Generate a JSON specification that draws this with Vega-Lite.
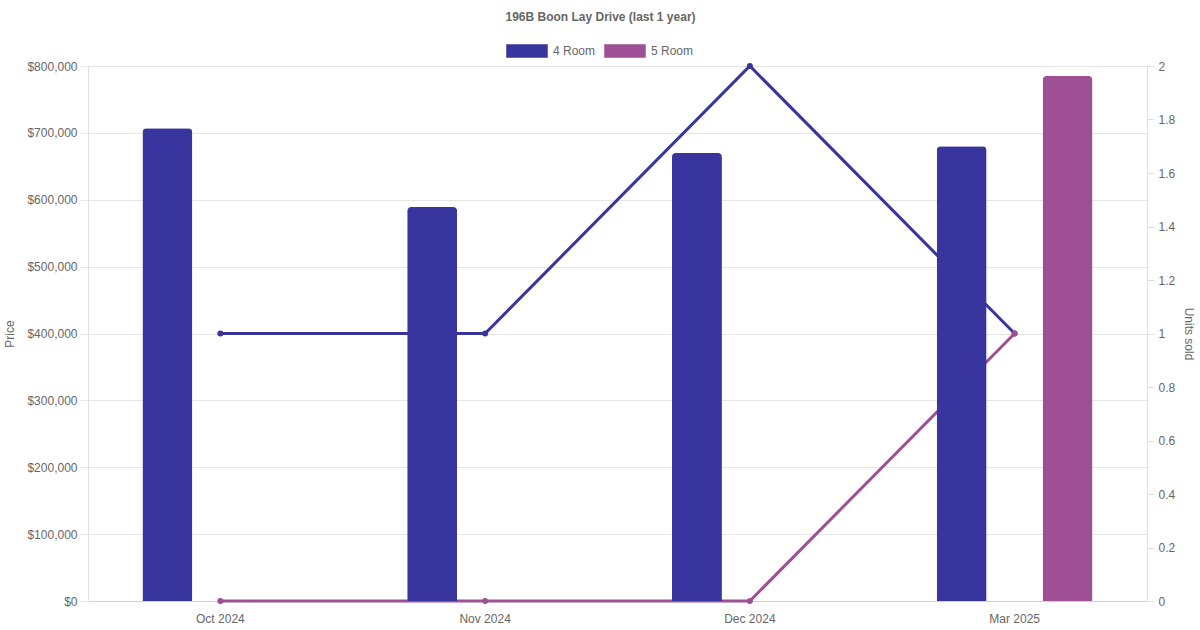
{
  "$schema": "https://vega.github.io/schema/vega-lite/v6.json",
  "autosize": {"type": "none"},
  "width": 1059,
  "height": 535,
  "padding": {"left": 88, "top": 66, "right": 53, "bottom": 29},
  "title": {
    "text": "196B Boon Lay Drive (last 1 year)",
    "fontSize": 12,
    "fontWeight": "bold",
    "color": "#666666",
    "font": "Liberation Sans",
    "anchor": "middle",
    "frame": "group",
    "dx": -17,
    "offset": 6
  },
  "data": {
    "values": [
      {"month": "Oct 2024", "type": "4 Room", "price": 707000, "units": 1},
      {"month": "Oct 2024", "type": "5 Room", "price": null, "units": 0},
      {"month": "Nov 2024", "type": "4 Room", "price": 589000, "units": 1},
      {"month": "Nov 2024", "type": "5 Room", "price": null, "units": 0},
      {"month": "Dec 2024", "type": "4 Room", "price": 670000, "units": 2},
      {"month": "Dec 2024", "type": "5 Room", "price": null, "units": 0},
      {"month": "Mar 2025", "type": "4 Room", "price": 680000, "units": 1},
      {"month": "Mar 2025", "type": "5 Room", "price": 785000, "units": 1}
    ]
  },
  "encoding": {
    "x": {
      "field": "month",
      "type": "nominal",
      "sort": ["Oct 2024", "Nov 2024", "Dec 2024", "Mar 2025"],
      "scale": {"paddingInner": 0.2, "paddingOuter": 0.1},
      "axis": {
        "title": null,
        "labelAngle": 0,
        "ticks": false,
        "labelPadding": 12,
        "domainColor": "#d0d0d0",
        "grid": false
      }
    },
    "color": {
      "field": "type",
      "type": "nominal",
      "scale": {"domain": ["4 Room", "5 Room"], "range": ["#39359F", "#9E5094"]},
      "legend": {
        "title": null,
        "orient": "none",
        "direction": "horizontal",
        "legendX": 418,
        "legendY": -36,
        "symbolType": "M-1,-0.3H1V0.3H-1Z",
        "symbolSize": 1600,
        "symbolOpacity": 1,
        "labelOffset": 5,
        "columnPadding": 6,
        "labelFontSize": 12,
        "labelColor": "#666666",
        "labelFont": "Liberation Sans"
      }
    }
  },
  "layer": [
    {
      "mark": {"type": "line", "strokeWidth": 3, "point": {"filled": true, "size": 36, "opacity": 1}},
      "encoding": {
        "y": {
          "field": "units",
          "type": "quantitative",
          "scale": {"domain": [0, 2], "nice": false},
          "axis": {
            "orient": "right",
            "title": "Units sold",
            "values": [0, 0.2, 0.4, 0.6, 0.8, 1, 1.2, 1.4, 1.6, 1.8, 2],
            "format": "~g",
            "grid": false,
            "tickSize": 7,
            "tickColor": "#e0e0e0",
            "domainColor": "#e0e0e0",
            "labelPadding": 4,
            "titlePadding": 7
          }
        }
      }
    },
    {
      "mark": {"type": "bar", "cornerRadiusTopLeft": 4, "cornerRadiusTopRight": 4},
      "encoding": {
        "xOffset": {
          "field": "type",
          "type": "nominal",
          "scale": {"domain": ["4 Room", "5 Room"], "paddingInner": 0.528, "paddingOuter": 0.264}
        },
        "y": {
          "field": "price",
          "type": "quantitative",
          "scale": {"domain": [0, 800000], "nice": false},
          "axis": {
            "orient": "left",
            "title": "Price",
            "values": [0, 100000, 200000, 300000, 400000, 500000, 600000, 700000, 800000],
            "format": "$,.0f",
            "grid": true,
            "gridColor": "#e5e5e5",
            "tickSize": 8,
            "tickColor": "#e5e5e5",
            "domainColor": "#e0e0e0",
            "labelPadding": 3,
            "titlePadding": 10
          }
        }
      }
    }
  ],
  "resolve": {"scale": {"y": "independent"}},
  "config": {
    "view": {"stroke": null},
    "font": "Liberation Sans",
    "axis": {
      "labelFont": "Liberation Sans",
      "labelFontSize": 12,
      "labelColor": "#666666",
      "titleFont": "Liberation Sans",
      "titleFontSize": 12,
      "titleFontWeight": "normal",
      "titleColor": "#666666"
    }
  }
}
